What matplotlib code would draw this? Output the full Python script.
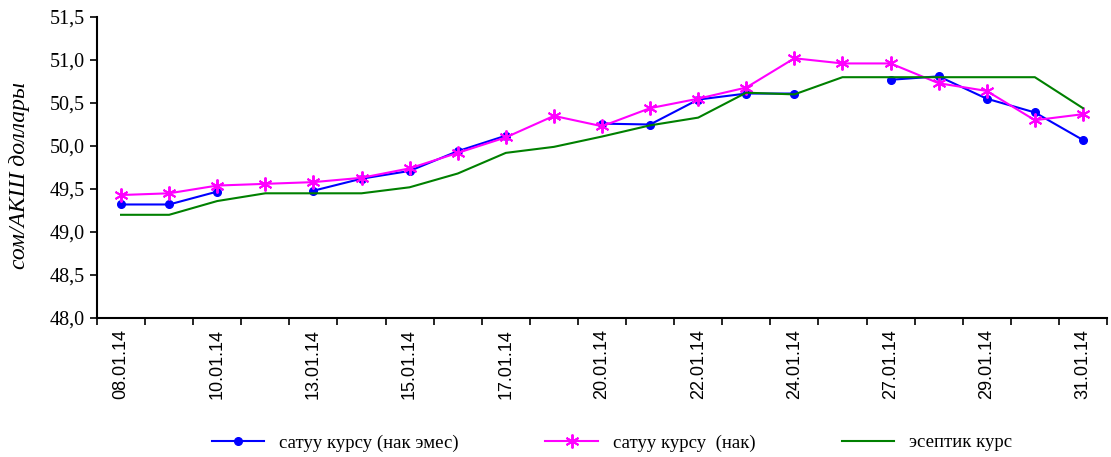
import numpy as np
import matplotlib
matplotlib.use('Agg')
import matplotlib.pyplot as plt

dates = ['08.01.14', '09.01.14', '10.01.14', '11.01.14', '13.01.14', '14.01.14',
         '15.01.14', '16.01.14', '17.01.14', '18.01.14', '20.01.14', '21.01.14',
         '22.01.14', '23.01.14', '24.01.14', '25.01.14', '27.01.14', '28.01.14',
         '29.01.14', '30.01.14', '31.01.14']

# satuu kursu (nak emes) - no quotes on saturdays
sell_noncash = [49.32, 49.32, 49.47, None, 49.48, 49.62, 49.71, 49.94, 50.12, None,
                50.26, 50.25, 50.54, 50.61, 50.61, None, 50.77, 50.81, 50.55, 50.39, 50.07]
sell_cash = [49.43, 49.45, 49.54, 49.56, 49.58, 49.63, 49.74, 49.92, 50.10, 50.35,
             50.23, 50.44, 50.55, 50.68, 51.02, 50.96, 50.96, 50.73, 50.64, 50.30, 50.37]
official = [49.20, 49.20, 49.36, 49.45, 49.45, 49.45, 49.52, 49.68, 49.92, 49.99,
            50.11, 50.24, 50.33, 50.62, 50.60, 50.80, 50.80, 50.80, 50.80, 50.80, 50.44]

labels = ['сатуу курсу (нак эмес)', 'сатуу курсу  (нак)', 'эсептик курс']

x = np.arange(len(dates))
noncash = np.array([np.nan if v is None else v for v in sell_noncash])

fig = plt.figure(figsize=(11.11, 4.57), dpi=100)
ax = fig.add_axes([97/1111, 1 - 318/457, (1107-97)/1111, (318-17)/457])

ax.plot(x, noncash, color='#0000ff', lw=1.5, marker='o', ms=5.5, label=labels[0])
ax.plot(x, sell_cash, color='#ff00ff', lw=1.5, marker=(6, 2, 0), ms=10, mew=1.4,
        label=labels[1])
ax.plot(x, official, color='#008000', lw=1.5, label=labels[2])

ax.set_xlim(-0.5, len(dates) - 0.5)
ax.set_ylim(48.0, 51.5)
yt = np.arange(48.0, 51.51, 0.5)
ax.set_yticks(yt)
ax.set_yticklabels([('%.1f' % v).replace('.', ',') for v in yt],
                   family='Liberation Serif', fontsize=14.5)
ax.set_xticks(x[::2])
ax.set_xticklabels(dates[::2], rotation=90, family='Liberation Sans', fontsize=13)
ax.set_xticks(np.arange(-0.5, len(dates)), minor=True)
ax.tick_params(axis='x', which='major', length=0, pad=8)
ax.tick_params(axis='x', which='minor', length=5, width=1.2, direction='out')
ax.tick_params(axis='y', length=5, width=1.2, direction='out')

for s in ['top', 'right']:
    ax.spines[s].set_visible(False)
for s in ['left', 'bottom']:
    ax.spines[s].set_linewidth(1.5)

ax.set_ylabel('сом/АКШ доллары', family='Liberation Serif', style='italic',
              fontsize=17)
ax.yaxis.set_label_coords(-0.066, 0.475)

fig.legend(loc='lower center', bbox_to_anchor=(0.551, -0.025), ncol=3, frameon=False,
           prop={'family': 'Liberation Serif', 'size': 13.5}, columnspacing=4.6,
           handlelength=2.8)

fig.savefig('out.png', dpi=100)
